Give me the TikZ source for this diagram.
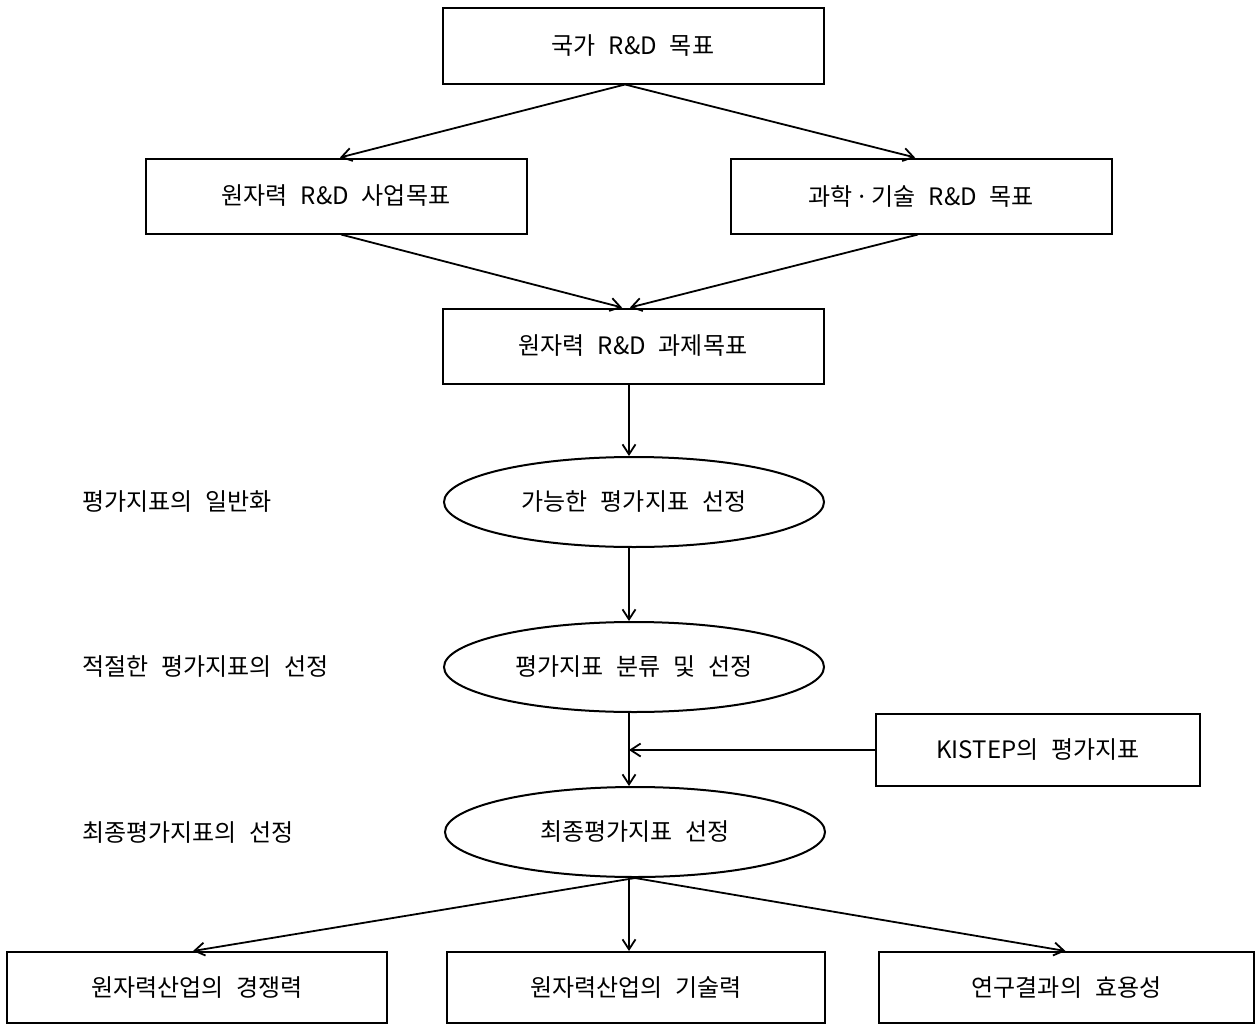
\documentclass[tikz,border=0pt]{standalone}
\usepackage{fontspec}
\setmainfont{Noto Sans CJK KR}[WordSpace=2.4]
\usetikzlibrary{arrows.meta,shapes.geometric}
\begin{document}
\begin{tikzpicture}[x=1pt,y=-1pt,
  txt/.style={font=\fontsize{24}{27}\selectfont},
  box/.style={txt, draw, line width=2pt, rectangle, minimum width=381pt, minimum height=75pt, inner sep=0pt},
  oval/.style={txt, draw, line width=2pt, ellipse, minimum width=380pt, minimum height=90pt, inner sep=0pt},
  lbl/.style={txt, anchor=west, inner sep=0pt},
  arr/.style={line width=1.8pt, -{Straight Barb[length=10pt,width=13pt,line width=1.8pt]}}
]
\useasboundingbox (0,0) rectangle (1258,1025);
\node[box] (top) at (633,46) {국가 R\&D 목표};
\node[box] (lb) at (336,196) {원자력 R\&D 사업목표};
\node[box] (rb) at (921,196) {과학\hspace{3pt}·\hspace{3pt}기술 R\&D 목표};
\node[box] (mid) at (633,346) {원자력 R\&D 과제목표};
\node[oval] (e1) at (634,502) {가능한 평가지표 선정};
\node[oval] (e2) at (634,667) {평가지표 분류 및 선정};
\node[box, minimum width=324pt, minimum height=72pt] (kis) at (1038,750) {KISTEP의 평가지표};
\node[oval] (e3) at (635,832) {최종평가지표 선정};
\node[box, minimum width=380pt, minimum height=71pt] (b1) at (197,987.5) {원자력산업의 경쟁력};
\node[box, minimum width=378pt, minimum height=71pt] (b2) at (636,987.5) {원자력산업의 기술력};
\node[box, minimum width=375pt, minimum height=71pt] (b3) at (1066.5,987.5) {연구결과의 효용성};
\node[lbl] (l1) at (82,502) {평가지표의 일반화};
\node[lbl] (l2) at (82,667) {적절한 평가지표의 선정};
\node[lbl] (l3) at (82,833) {최종평가지표의 선정};
\coordinate (vx) at (629,0);
\draw[arr] ([xshift=-8pt]top.south) -- ([xshift=4pt]lb.north);
\draw[arr] ([xshift=-8pt]top.south) -- ([xshift=-6pt]rb.north);
\draw[arr] ([xshift=5pt]lb.south) -- ([xshift=-11pt]mid.north);
\draw[arr] ([xshift=-3pt]rb.south) -- ([xshift=-3pt]mid.north);
\draw[arr] (mid.south -| vx) -- (e1.north -| vx);
\draw[arr] (e1.south -| vx) -- (e2.north -| vx);
\draw[arr] (e2.south -| vx) -- (e3.north -| vx);
\draw[arr] (kis.west) -- (kis.west -| vx);
\draw[arr] (e3.south) -- ([xshift=-4pt]b1.north);
\draw[arr] (e3.south -| vx) -- (b2.north -| vx);
\draw[arr] (e3.south) -- ([xshift=-1pt]b3.north);
\end{tikzpicture}
\end{document}
